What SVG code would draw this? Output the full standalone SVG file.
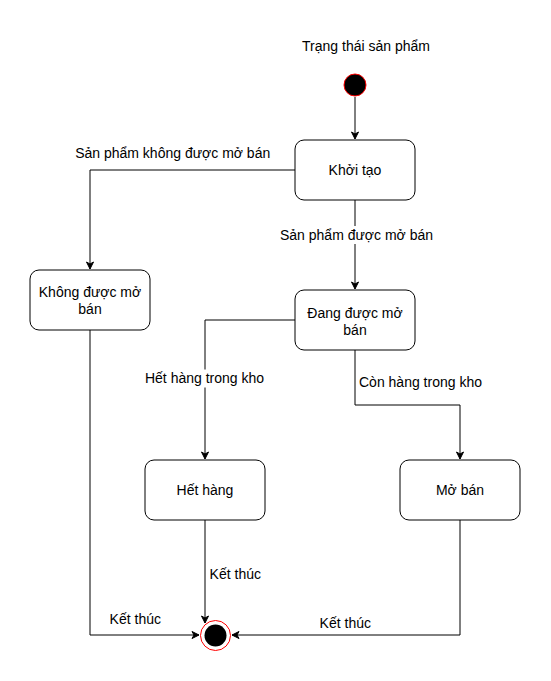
<svg xmlns="http://www.w3.org/2000/svg" width="551" height="681" viewBox="0 0 551 681">
<style>
.box{fill:#fff;stroke:#000;stroke-width:1}
.t{font-family:"Liberation Sans",Arial,sans-serif;font-size:14px;fill:#000;text-anchor:middle}
.c{fill:none;stroke:#000;stroke-width:1}
.bg{fill:#fff;stroke:none}
</style>
<defs>
<marker id="arr" markerWidth="10" markerHeight="10" refX="8" refY="5" orient="auto" markerUnits="userSpaceOnUse">
<path d="M1,1.5 L8,5 L1,8.5 L3,5 Z" fill="#000" stroke="#000" stroke-width="1"/>
</marker>
</defs>
<rect width="551" height="681" fill="#fff"/>
<text class="t" x="366" y="50.5">Trạng thái sản phẩm</text>
<g id="connectors">
<path class="c" d="M355,97 V139" marker-end="url(#arr)"/>
<path class="c" d="M295,170 H90 V269" marker-end="url(#arr)"/>
<path class="c" d="M355,200 V289" marker-end="url(#arr)"/>
<path class="c" d="M295,320 H205 V459" marker-end="url(#arr)"/>
<path class="c" d="M355,350 V405 H460 V459" marker-end="url(#arr)"/>
<path class="c" d="M205,520 V623" marker-end="url(#arr)"/>
<path class="c" d="M90,330 V635 H199" marker-end="url(#arr)"/>
<path class="c" d="M460,520 V635 H232" marker-end="url(#arr)"/>
<text class="t" x="172.7" y="158.3">Sản phẩm không được mở bán</text>
<rect class="bg" x="280" y="226" width="153" height="18"/>
<text class="t" x="356.5" y="240">Sản phẩm được mở bán</text>
<rect class="bg" x="144" y="369.5" width="121" height="18"/>
<text class="t" x="204.5" y="383.3">Hết hàng trong kho</text>
<text class="t" x="420.5" y="387">Còn hàng trong kho</text>
<text class="t" x="235.3" y="579.3">Kết thúc</text>
<text class="t" x="135.3" y="624">Kết thúc</text>
<text class="t" x="345.3" y="627.7">Kết thúc</text>
</g>
<g id="start"><circle cx="355" cy="85" r="11" fill="#000" stroke="#f00" stroke-width="1"/></g>
<g id="khoitao"><rect class="box" x="295" y="140" width="120" height="60" rx="9"/><text class="t" x="355" y="175">Khởi tạo</text></g>
<g id="khongduoc"><rect class="box" x="30" y="270" width="120" height="60" rx="9"/><text class="t" x="90" y="297">Không được mở</text><text class="t" x="90" y="314">bán</text></g>
<g id="dangduoc"><rect class="box" x="295" y="290" width="120" height="60" rx="9"/><text class="t" x="355" y="317.5">Đang được mở</text><text class="t" x="355" y="334.5">bán</text></g>
<g id="hethang"><rect class="box" x="145" y="460" width="120" height="60" rx="9"/><text class="t" x="205" y="495">Hết hàng</text></g>
<g id="moban"><rect class="box" x="400" y="460" width="120" height="60" rx="9"/><text class="t" x="460" y="495">Mở bán</text></g>
<g id="end"><circle cx="215.5" cy="635.5" r="15" fill="#fff" stroke="#f00" stroke-width="1"/><circle cx="215.5" cy="635.5" r="11" fill="#000"/></g>
</svg>
